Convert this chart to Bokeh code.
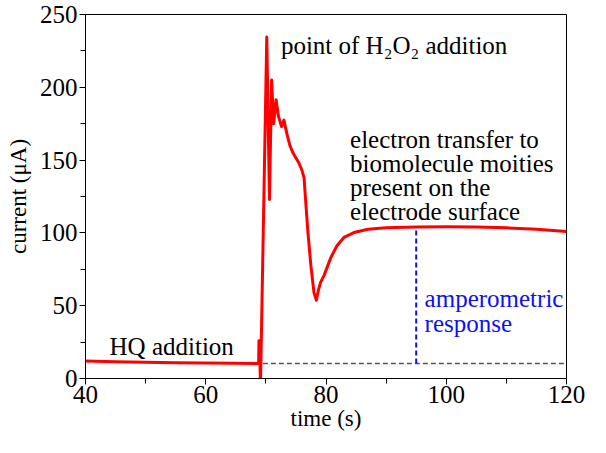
from bokeh.plotting import figure
from bokeh.models import Range1d, FixedTicker
from bokeh.core.properties import value
from bokeh.embed import file_html
from bokeh.resources import INLINE

# ---- data ----
time_s = [40, 45, 50, 55, 60, 65, 68.8, 68.85, 68.95, 69.1, 70.15, 70.6, 70.95, 71.3,
          71.7, 72.1, 72.6, 73.0, 73.5, 74.0, 74.5, 75.0, 75.5, 76.0, 76.35, 76.6,
          77.0, 77.5, 78.0, 78.4, 78.7, 79.1, 79.7, 80.8, 81.8, 83.0, 84.8, 87, 90,
          95, 100, 105, 110, 115, 120]
current_uA = [12.0, 11.5, 11.1, 10.8, 10.6, 10.4, 10.3, 26, 26, -6, 234.5, 123, 205, 175,
              191.5, 180, 173, 177.5, 168, 160, 155, 151.5, 148, 143, 138, 123,
              100, 77, 59, 53.7, 60, 66, 71, 83, 91, 97, 100.5, 102.5, 103.5,
              104, 104.2, 104, 103.5, 102.5, 101]

baseline_level = 10.3      # dashed grey reference level
baseline_start = 69.5
response_time = 95         # blue dashed marker
plateau_level = 104

x_ticks = [40, 60, 80, 100, 120]
x_minor = [50, 70, 90, 110]
y_ticks = [0, 50, 100, 150, 200, 250]
y_minor = [25, 75, 125, 175, 225]

FONT = "Liberation Serif"

p = figure(width=590, height=437, x_range=Range1d(40, 120), y_range=Range1d(0, 250),
           output_backend="svg", toolbar_location=None,
           min_border_left=85, min_border_right=24, min_border_top=14, min_border_bottom=59)

p.grid.visible = False
p.outline_line_color = "black"
p.outline_line_width = 1
p.outline_line_alpha = 1
p.background_fill_color = "white"
p.border_fill_color = "white"

p.xaxis.ticker = FixedTicker(ticks=x_ticks, minor_ticks=x_minor)
p.yaxis.ticker = FixedTicker(ticks=y_ticks, minor_ticks=y_minor)
p.xaxis.axis_label = "time (s)"
p.yaxis.axis_label = "current (μA)"

for ax in (p.xaxis[0], p.yaxis[0]):
    ax.axis_line_color = "black"
    ax.axis_line_width = 1
    ax.major_tick_line_color = "black"
    ax.minor_tick_line_color = "black"
    ax.major_tick_in = 0
    ax.major_tick_out = 6
    ax.minor_tick_in = 0
    ax.minor_tick_out = 5
    ax.major_label_text_font = FONT
    ax.major_label_text_font_size = "25px"
    ax.major_label_text_color = "black"
    ax.axis_label_text_font = FONT
    ax.axis_label_text_font_style = "normal"
    ax.axis_label_text_color = "black"
    ax.axis_label_text_font_size = "23px"

p.xaxis.major_label_standoff = 1
p.xaxis.axis_label_standoff = 0
p.yaxis.major_label_standoff = 2
p.yaxis.axis_label_standoff = 6

# reference levels
p.line(x=[baseline_start, 120], y=[baseline_level, baseline_level],
       line_color="#555555", line_width=1.5, line_dash="5 3")
p.line(x=[response_time, response_time], y=[baseline_level, plateau_level],
       line_color="#1010ee", line_width=2, line_dash="5 3")

# measured current
p.line(time_s, current_uA, line_color="#ff0000", line_width=3, line_join="round")

# annotations
tf = value(FONT)
p.text(x=[72.5], y=[229], text=["point of H\u2082O\u2082 addition"], text_font=tf,
       text_font_size="25px", text_baseline="alphabetic", text_color="black")
p.text(x=[84.0] * 4, y=[164, 147.4, 131.1, 114.8],
       text=["electron transfer to", "biomolecule moities", "present on the", "electrode surface"],
       text_font=tf, text_font_size="25px", text_baseline="alphabetic", text_color="black")
p.text(x=[44.0], y=[21.7], text=["HQ addition"], text_font=tf,
       text_font_size="25px", text_baseline="alphabetic", text_color="black")
p.text(x=[96.4, 96.4], y=[54.9, 37.9], text=["amperometric", "response"], text_font=tf,
       text_font_size="25px", text_baseline="alphabetic", text_color="#1010ee")

open("out.html", "w").write(file_html(p, INLINE))
